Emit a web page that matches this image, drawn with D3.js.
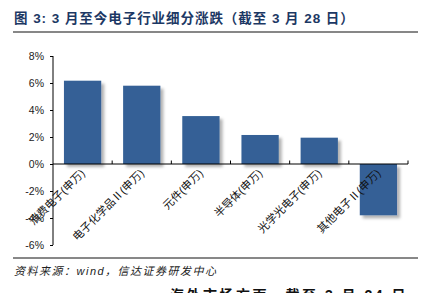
<!DOCTYPE html>
<html><head><meta charset="utf-8">
<script src="https://cdn.jsdelivr.net/npm/d3@7"></script>
<style>body{margin:0;background:#fff}svg{display:block}</style>
</head><body>
<svg id="c" width="427" height="293"></svg>
<script>
const categories = ["消费电子(申万)","电子化学品Ⅱ(申万)","元件(申万)","半导体(申万)","光学光电子(申万)","其他电子Ⅱ(申万)"];
const values = [6.17, 5.8, 3.55, 2.15, 1.95, -3.8];
const yTicks = [-6,-4,-2,0,2,4,6,8];
const titleText = "图 3:  3 月至今电子行业细分涨跌（截至 3 月 28 日）";
const sourceText = "资料来源：wind，信达证券研发中心";
const nextText = "海外市场方面，截至 3 月 24 日";

const svg = d3.select("#c");
const font = "'Liberation Sans', Arial, 'Noto Sans CJK SC', sans-serif";
const cjk = "'Liberation Sans', 'Noto Sans CJK SC', sans-serif";
const defs = svg.append("defs");
const f = defs.append("filter").attr("id","sh").attr("x","-20%").attr("y","-20%").attr("width","150%").attr("height","150%");
f.append("feDropShadow").attr("dx",3).attr("dy",3).attr("stdDeviation",1.8).attr("flood-color","#000").attr("flood-opacity",0.3);

// title
svg.append("text").attr("x",14).attr("y",23).attr("font-family",cjk)
  .attr("font-weight","bold").attr("font-size",13.5).attr("letter-spacing",0.95).attr("fill","#1c3864").text(titleText);
svg.append("line").attr("x1",13).attr("x2",418).attr("y1",32).attr("y2",32).attr("stroke","#111").attr("stroke-width",1.2);

const x = d3.scaleBand().domain(categories).range([53,408]).paddingInner(0.37).paddingOuter(0.185);
const y = d3.scaleLinear().domain([-6,8]).range([245,56]);

// bars
svg.append("g").selectAll("rect").data(values).join("rect")
  .attr("x",(d,i)=>x(categories[i]))
  .attr("width",x.bandwidth())
  .attr("y",d=>y(Math.max(0,d)))
  .attr("height",d=>Math.abs(y(d)-y(0)))
  .attr("fill","#356196").attr("filter","url(#sh)");

// y axis
const ya = svg.append("g").attr("transform","translate(53,0)")
  .call(d3.axisLeft(y).tickValues(yTicks).tickSize(3).tickFormat(d=>d+"%"));
ya.select(".domain").attr("d","M0,"+y(8)+"V"+y(-6)).attr("stroke","#000");
ya.selectAll("text").attr("font-family",font).attr("font-size",10.5).attr("fill","#222").attr("dx",-3);

// x axis line at 0
const step = x.step();
const xa = svg.append("g");
xa.append("line").attr("x1",53).attr("x2",408).attr("y1",y(0)).attr("y2",y(0)).attr("stroke","#000");
xa.selectAll("line.t").data(d3.range(1,categories.length+1)).join("line").attr("class","t")
  .attr("x1",i=>53+i*step).attr("x2",i=>53+i*step).attr("y1",y(0)).attr("y2",y(0)-3.5).attr("stroke","#000");

// labels
svg.append("g").selectAll("text").data(categories).join("text")
  .attr("transform",d=>`translate(${x(d)+x.bandwidth()/2+3},${y(0)+10}) rotate(-45)`)
  .attr("text-anchor","end").attr("font-family",cjk).attr("font-size",11).attr("fill","#111")
  .text(d=>d);

// source
svg.append("line").attr("x1",13).attr("x2",418).attr("y1",258).attr("y2",258).attr("stroke","#111").attr("stroke-width",1);
svg.append("text").attr("x",14).attr("y",275).attr("font-family",cjk)
  .attr("font-style","italic").attr("font-size",11).attr("letter-spacing",1.5).attr("fill","#222").text(sourceText);
svg.append("text").attr("x",170).attr("y",300).attr("font-family",cjk)
  .attr("font-weight","bold").attr("font-size",14).attr("letter-spacing",2.5).attr("fill","#111").text(nextText);
</script>
</body></html>
